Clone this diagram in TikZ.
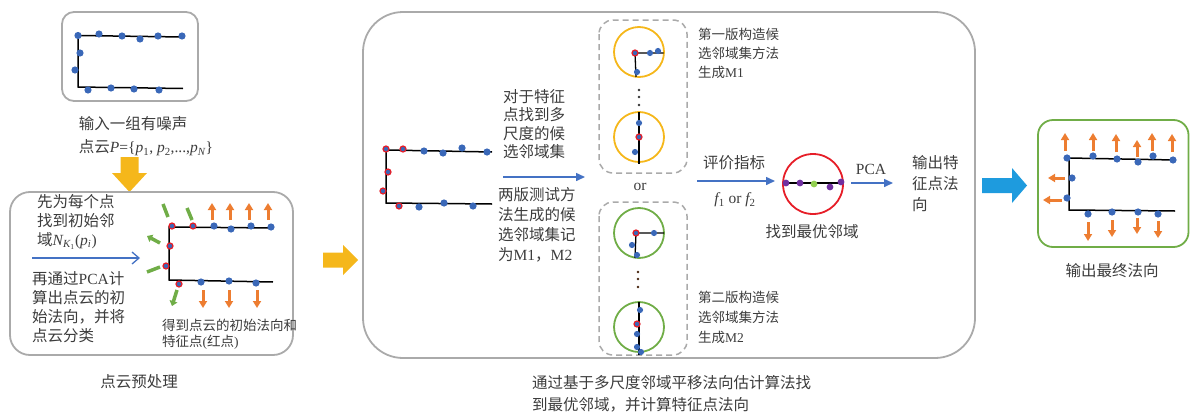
\documentclass[tikz,border=0pt]{standalone}
\usepackage{fontspec}
\setmainfont{Noto Sans CJK SC}
\newfontfamily\lat{Liberation Serif}
\usetikzlibrary{arrows.meta}
\definecolor{ptblue}{RGB}{58,104,184}
\definecolor{ptred}{RGB}{230,30,40}
\definecolor{aorange}{RGB}{237,125,49}
\definecolor{agreen}{RGB}{112,173,71}
\definecolor{ayellow}{RGB}{245,183,27}
\definecolor{abblue}{RGB}{30,155,222}
\definecolor{lblue}{RGB}{68,114,196}
\definecolor{boxgray}{RGB}{170,170,170}
\definecolor{txt}{RGB}{60,60,60}
\definecolor{ppurple}{RGB}{112,48,160}
\definecolor{pgreen}{RGB}{146,208,80}
\newcommand\iv[1]{{\lat\itshape #1}}
\newcommand\sub[1]{\textsubscript{\lat #1}}
\newcommand\SBP[1]{\fill[ptblue] (#1) circle (3.1pt);}
\newcommand\RP[1]{\fill[ptblue] (#1) circle (3pt); \draw[ptred,line width=1.2pt] (#1) circle (3pt);}
\newcommand\PP[1]{\fill[ppurple] (#1) circle (3.4pt);}
\tikzset{
  gbox/.style={draw=boxgray, line width=1.8pt, rounded corners=#1},
  gbox/.default=15pt,
  dbox/.style={draw=boxgray, line width=1.5pt, dash pattern=on 6pt off 4pt, rounded corners=14pt},
  cl/.style={line width=1.5pt, black},
  txtA/.style={font=\fontsize{15.5}{19}\selectfont, text=txt, inner sep=0pt, align=left},
  txtB/.style={font=\fontsize{13.5}{19}\selectfont, text=txt, inner sep=0pt, align=left},
  larr/.style={lblue, line width=1.5pt, -{Triangle[length=9pt,width=8pt]}},
  oarr/.style={aorange, line width=3pt, -{Triangle[length=7pt,width=8pt]}},
  garr/.style={agreen, line width=3.5pt},
  garrh/.style={agreen, line width=3.5pt, -{Triangle[length=5pt,width=8pt]}},
  ring/.style={line width=1.8pt}
}
\begin{document}
\begin{tikzpicture}[x=1pt,y=-1pt]
\useasboundingbox (0,0) rectangle (1190,415);
% ---------- Box A: input ----------
\draw[gbox=12pt] (62,12) rectangle (198,101);
\draw[cl] (183,37) -- (78,35.5) -- (78,87) -- (183,88.5);
\foreach \p in {(78,35.5),(99,34),(122,36),(140,39),(158,36),(182,36),(80,53),(75,70),(88,90),(111,88),(134,89),(159,90)} {\fill[ptblue] \p circle (3.6pt);}
\node[txtA, anchor=center] (capA1) at (133,124) {输入一组有噪声};
\node[txtA, anchor=center] (capA2) at (146,148) {点云\iv{P}{\lat=\{}\iv{p}\sub{1}{\lat, }\iv{p}\sub{2}{\lat,...,}\iv{p}\textsubscript{\iv{N}}{\lat\}}};
% yellow down arrow
\fill[ayellow] (120.5,157) -- (138.5,157) -- (138.5,173) -- (147,173) -- (129.5,192) -- (112,173) -- (120.5,173) -- cycle;
% ---------- Box B: preprocessing ----------
\draw[gbox=20pt] (10,192) rectangle (293,355);
\node[txtA, anchor=north west] (tB1) at (37,194) {先为每个点\\找到初始邻\\域\iv{N}\textsubscript{\iv{K}\textsubscript{\lat 1}}{\lat(}\iv{p}\textsubscript{\iv{i}}{\lat)}};
\coordinate (bA) at (32,258);
\coordinate (bB) at (140,258);
\draw[lblue, line width=1.3pt, -{Straight Barb[length=7pt,width=12pt]}] (bA) -- (bB);
\node[txtA, anchor=north west] (tB2) at (32,271) {再通过{\lat PCA}计\\算出点云的初\\始法向，并将\\点云分类};
\draw[cl] (273,228) -- (169,227) -- (169,280) -- (273,282);
\foreach \x in {212,230,249,268} {\draw[oarr] (\x,220) -- (\x,203);}
\foreach \x in {203,229,257} {\draw[oarr] (\x,290) -- (\x,308);}
\draw[garr] (163,204) -- (168,217);
\draw[garr] (187,208) -- (192,220);
\draw[garrh] (160,243) -- (147,236);
\draw[garr] (147,272) -- (160,267);
\draw[garrh] (177,290) -- (172,306);
\foreach \p in {(214,226),(231,229),(251,226),(271,227),(201,282),(229,281),(256,283)} {\fill[ptblue] \p circle (3.6pt);}
\foreach \p in {(172,226),(193,226),(170,246),(166,266),(179,284)} {\fill[ptblue] \p circle (3pt); \draw[ptred,line width=1.2pt] \p circle (3pt);}
\node[txtB, anchor=north west, font=\fontsize{13.5}{16}\selectfont] (tB3) at (162,319) {得到点云的初始法向和\\特征点{\lat(}红点{\lat)}};
\node[txtA, anchor=center] (capB) at (139,382) {点云预处理};
% yellow right arrow
\fill[ayellow] (323,252.5) -- (343,252.5) -- (343,245) -- (358,260) -- (343,275) -- (343,267.5) -- (323,267.5) -- cycle;
% ---------- Box C ----------
\draw[gbox=40pt] (363,12) rectangle (975,358);
\draw[cl] (492,152) -- (386,150) -- (386,203) -- (492,204);
\foreach \p in {(424,151),(443,153),(462,148),(487,152),(419,207),(444,203),(473,206)} {\fill[ptblue] \p circle (3.6pt);}
\foreach \p in {(386,149),(403,149),(388,172),(383,191),(399,206)} {\fill[ptblue] \p circle (3pt); \draw[ptred,line width=1.2pt] \p circle (3pt);}
\node[txtA, anchor=north west, font=\fontsize{15.5}{18.5}\selectfont] (tC1) at (503,89) {对于特征\\点找到多\\尺度的候\\选邻域集};
\coordinate (cA) at (503,177);
\coordinate (cB) at (585,177);
\draw[larr] (cA) -- (cB);
\node[txtA, anchor=north west, font=\fontsize{15.5}{20}\selectfont] (tC2) at (498,187) {两版测试方\\法生成的候\\选邻域集记\\为{\lat M1}，{\lat M2}};
% dashed boxes
\draw[dbox] (599,20) rectangle (687,173);
\draw[dbox] (599,202) rectangle (687,355);
\node[txtA, anchor=center] (orT) at (640,187) {\lat or};
% circle 1
\draw[ayellow, ring] (639,52) circle (25pt);
\draw[cl, line width=1.3pt] (663.5,53) -- (635,53) -- (636,77);
\RP{635,53} \SBP{650,53} \SBP{658,51} \SBP{637,72}
\foreach \y in {90,97,105} {\fill[black!80] (639,\y) circle (1.3pt);}
% circle 2
\draw[ayellow, ring] (639,137) circle (25pt);
\draw[cl, line width=1.3pt] (639,112) -- (639,164);
\SBP{639,123} \RP{639,137} \SBP{635,152}
% circle 3
\draw[agreen, ring] (639,233) circle (25pt);
\draw[cl, line width=1.3pt] (664,233) -- (636,233) -- (635,258);
\RP{636,233} \SBP{654,233} \SBP{632,245} \SBP{637,255}
\foreach \y in {272,279,287} {\fill[black!70!aorange] (638,\y) circle (1.3pt);}
% circle 4
\draw[agreen, ring] (639,327) circle (25pt);
\draw[cl, line width=1.3pt] (639,302) -- (639,355);
\SBP{640,310} \RP{637,324} \SBP{637,334} \SBP{637,347} \SBP{641,352}
\node[txtB, anchor=north west] (tD1) at (698,28) {第一版构造候\\选邻域集方法\\生成{\lat M1}};
\node[txtB, anchor=north west, font=\fontsize{13.5}{20}\selectfont] (tD2) at (698,291) {第二版构造候\\选邻域集方法\\生成{\lat M2}};
% evaluation
\coordinate (eA) at (697,181);
\coordinate (eB) at (775,181);
\draw[larr] (eA) -- (eB);
\node[txtA, anchor=center] (tEv) at (734,163) {评价指标};
\node[txtA, anchor=center] (tF) at (735,200) {\iv{f}\sub{1}{\lat{} or }\iv{f}\sub{2}};
\draw[ptred, ring] (813,184) circle (30pt);
\draw[cl] (784,183) -- (843,183);
\PP{786,183} \PP{800,183} \PP{830,187} \PP{841,182}
\fill[pgreen] (814,184) circle (3.4pt);
\node[txtA, anchor=center] (tBest) at (812,232) {找到最优邻域};
\coordinate (pA) at (851,183);
\coordinate (pB) at (893,183);
\draw[larr] (pA) -- (pB);
\node[txtA, anchor=center] (tPCA) at (871,169) {\lat PCA};
\node[txtA, anchor=north west, font=\fontsize{15.5}{21}\selectfont] (tOut) at (912,155) {输出特\\征点法\\向};
\node[txtA, anchor=north west, font=\fontsize{15.5}{22}\selectfont] (capC) at (532,375) {通过基于多尺度邻域平移法向估计算法找\\到最优邻域，并计算特征点法向};
% blue big arrow
\fill[abblue] (982,178) -- (1012,178) -- (1012,168) -- (1027,185.5) -- (1012,203) -- (1012,193) -- (982,193) -- cycle;
% ---------- Box E ----------
\draw[agreen, line width=1.8pt, rounded corners=15pt] (1038,120) rectangle (1188.5,247);
\draw[cl] (1175,160) -- (1069,158) -- (1069,210) -- (1175,211);
\foreach \x/\a/\b in {1065/151/133,1093/151/133,1116/152/134,1137/157/140,1152/151/133,1172/152/134} {\draw[oarr] (\x,\a) -- (\x,\b);}
\draw[oarr] (1065,178) -- (1048,178);
\draw[oarr] (1062,200) -- (1043,200);
\foreach \x/\a/\b in {1088/222/241,1112/220/237,1137/218/234,1158/221/238} {\draw[oarr] (\x,\a) -- (\x,\b);}
\foreach \p in {(1067,158),(1093,156),(1117,159),(1138,162),(1153,156),(1173,160),(1072,178),(1067,198),(1088,214),(1112,212),(1138,212),(1158,214)} {\fill[ptblue] \p circle (3.6pt);}
\node[txtA, anchor=center] (capE) at (1112,271) {输出最终法向};
\end{tikzpicture}
\end{document}
